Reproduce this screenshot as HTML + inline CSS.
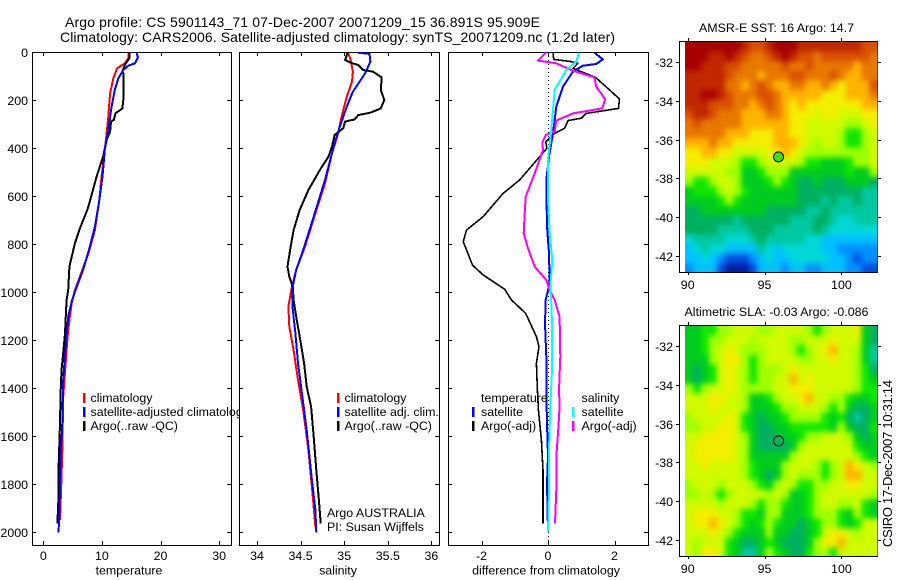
<!DOCTYPE html>
<html lang="en">
<head>
<meta charset="utf-8">
<title>Argo profile</title>
<style>
html,body{margin:0;padding:0;background:#fff;width:900px;height:580px;overflow:hidden}
svg{display:block;font-family:"Liberation Sans",sans-serif;fill:#000}
text{font-size:12.4px}
</style>
</head>
<body>
<svg id="chart" width="900" height="580" viewBox="0 0 900 580" xmlns="http://www.w3.org/2000/svg">
<defs>
<filter id="mapSmooth" filterUnits="userSpaceOnUse" x="660" y="0" width="240" height="580" color-interpolation-filters="sRGB"><feGaussianBlur stdDeviation="2.6 2.8"/></filter>
<clipPath id="sstClip"><rect x="685" y="42" width="192.5" height="230"/></clipPath>
<clipPath id="slaClip"><rect x="685" y="326" width="192.5" height="230"/></clipPath>
</defs>
<rect x="0" y="0" width="900" height="580" fill="#fff"/>
<text x="65" y="27" style="font-size:14px" textLength="475">Argo profile: CS 5901143_71 07-Dec-2007 20071209_15 36.891S 95.909E</text>
<text x="60" y="42" style="font-size:14px" textLength="555">Climatology: CARS2006. Satellite-adjusted climatology: synTS_20071209.nc (1.2d later)</text>
<text transform="translate(892,547) rotate(-90)" style="font-size:13px" textLength="167">CSIRO 17-Dec-2007 10:31:14</text>
</svg>
<script>
// ---------- profile axes ----------
const depthTicks = [0,200,400,600,800,1000,1200,1400,1600,1800,2000];
const tempTicks = [0,10,20,30];
const salTicks = [34,34.5,35,35.5,36];
const salTickLabels = ['34','34.5','35','35.5','36'];
const diffTicks = [-2,0,2];

// ---------- temperature panel ----------
const tClimValues = [14.5,14.5,13.9,12.6,11.95,11.4,11.1,10.8,10.35,9.95,9.55,8.8,7.7,6.25,5.4,4.85,4.45,4.15,3.85,3.4,3.25,3.05,2.85];
const tClimDepths = [3,26,47,68,110,172,269,339,436,519,617,742,839,936,992,1047,1117,1186,1283,1436,1658,1811,1950];
const tSatValues = [15.9,16.15,15.65,14.5,13.65,12.8,12.2,11.65,11.1,10.5,10.1,9.55,8.8,7.95,6.8,5.4,4.85,4.25,3.8,3.4,3.25,2.95,2.85,2.7,2.6];
const tSatDepths = [3,22,47,57,75,110,158,228,325,408,519,617,728,811,908,999,1040,1103,1228,1367,1547,1686,1825,1950,2003];
const tArgoValues = [14.7,14.7,13.9,13.5,13.65,13.65,13.5,12.3,12.05,11.55,11.4,10.8,10.2,9.1,7.85,7.5,6.25,5.4,4.45,4.25,3.98,3.8,3.7,3.4,3.1,2.95,2.85,2.6,2.6,2.4];
const tArgoDepths = [3,26,54,82,89,200,235,256,283,290,332,367,436,519,631,658,735,797,894,992,1033,1117,1172,1256,1325,1422,1547,1742,1853,1964];

// ---------- salinity panel ----------
const sClimValues = [35.04,35.07,35.1,35.09,35.03,34.97,34.93,34.86,34.78,34.67,34.55,34.45,34.4,34.36,34.37,34.42,34.47,34.53,34.59,34.64,34.67];
const sClimDepths = [3,26,82,124,186,269,339,422,547,672,811,908,978,1061,1144,1242,1367,1492,1658,1853,1978];
const sSatValues = [35.16,35.29,35.3,35.24,35.1,35.03,34.95,34.88,34.78,34.65,34.53,34.45,34.4,34.41,34.44,34.47,34.51,34.57,34.63,34.67,34.68];
const sSatDepths = [3,8,40,89,165,228,311,394,533,686,825,908,992,1075,1172,1297,1408,1575,1783,1908,2003];
const sArgoValues = [35.04,35.01,35.07,35.16,35.22,35.33,35.43,35.42,35.46,35.42,35.3,35.16,35.12,35.01,34.99,34.89,34.86,34.82,34.72,34.59,34.49,34.42,34.38,34.35,34.37,34.41,34.42,34.45,34.49,34.54,34.57,34.62,34.65,34.68,34.71,34.73];
const sArgoDepths = [3,33,44,54,75,82,106,158,200,235,253,263,281,290,318,346,394,436,492,575,658,742,825,894,936,978,1033,1103,1186,1297,1394,1478,1603,1742,1867,1964];

// ---------- difference panel ----------
const dTSatValues = [1.4,1.65,1.45,1.05,0.75,0.45,0.25,0.15,0.03,-0.05,-0.03,0.03,0.05,-0.07,-0.09,-0.05,-0.05,-0.03,0,-0.03,0];
const dTSatDepths = [3,31,50,57,82,144,228,339,436,533,728,839,964,1033,1131,1270,1408,1547,1686,1797,2000];
const dSSatValues = [0.93,0.85,0.55,0.2,0.15,0.1,0,0,0.05,0.13,0.07,0.1,0.12,0.12,0.07,0.03,0.03,0];
const dSSatDepths = [3,40,75,158,242,325,450,617,756,867,978,1047,1131,1325,1478,1658,1825,2000];
const dSArgoValues = [-0.07,-0.3,0.25,0.75,1.4,1.45,1.72,1.63,0.75,0.25,0.2,-0.07,-0.17,-0.15,-0.4,-0.67,-0.7,-0.73,-0.6,-0.4,-0.05,0.05,0.2,0.35,0.37,0.33,0.35,0.3,0.25,0.25,0.21];
const dSArgoDepths = [3,36,47,78,106,144,197,235,256,286,332,346,378,408,506,603,672,756,818,894,950,992,1033,1103,1270,1408,1478,1589,1686,1825,1964];
const dTArgoValues = [0.15,0.17,0.7,0.9,0.75,1.43,1.85,2.15,2.12,1.15,1,0.6,0.5,0.15,-0.07,-0.03,-0.25,-0.85,-1.35,-1.95,-2.45,-2.55,-2.27,-1.95,-1.3,-1.1,-0.67,-0.35,-0.27,-0.35,-0.32,-0.29,-0.2,-0.15,-0.15];
const dTArgoDepths = [3,31,40,47,68,106,158,196,235,256,276,286,318,343,374,401,436,533,589,686,742,790,888,929,989,1033,1089,1186,1228,1297,1408,1492,1617,1742,1964];

// ---------- maps ----------
const lonTicks = [90,95,100];
const latTicks = [-32,-34,-36,-38,-40,-42];
const argoLon = 95.909;
const argoLat = -36.891;
// colour-scale levels 0 (coldest / lowest) .. 16 (warmest / highest)
const levelColors = ['#0020a0','#0050e0','#0090ff','#00c0ff','#00d8d8','#00c8a0','#00b060','#00cc20','#10e800','#a0ff00','#d0fa00','#f4ee00','#ffb400','#e87800','#d85000','#c02800','#a80000'];
const sstLevels = [
[16,16,16,16,16,16,16,15,14,14,15,16,16,16,15,15,15,15,15,15,15,15,14,14],
[16,16,16,15,15,16,15,14,13,13,14,15,16,15,14,14,13,14,14,14,14,14,14,13],
[16,16,15,15,15,14,14,13,13,13,13,13,14,13,13,14,13,13,13,13,13,12,13,13],
[15,15,15,15,15,14,13,13,13,12,13,13,13,14,14,13,13,13,14,13,12,12,13,13],
[15,15,15,15,15,13,13,12,13,14,13,12,12,13,13,12,12,13,12,11,12,12,12,14],
[15,15,16,16,15,14,13,13,13,14,14,13,12,12,12,12,12,11,11,11,12,12,12,13],
[15,15,15,14,14,14,13,13,12,13,14,13,12,11,12,11,11,11,11,11,11,11,12,12],
[14,15,15,14,13,13,13,12,12,12,13,13,12,11,11,11,10,11,11,10,10,10,11,11],
[13,14,13,13,13,13,13,12,12,12,12,12,12,11,11,10,10,10,10,10,9,9,10,11],
[13,13,13,13,13,12,12,12,11,11,11,12,12,11,11,10,10,10,10,9,8,8,9,10],
[12,12,12,13,12,12,11,11,11,11,11,12,12,12,11,10,9,10,10,9,8,8,9,10],
[11,11,12,12,11,11,10,10,10,10,11,11,12,11,10,9,9,9,9,9,9,9,9,10],
[11,11,11,10,10,10,9,8,8,9,10,10,10,10,9,8,8,7,7,7,8,9,9,10],
[10,10,10,10,10,9,9,7,7,8,9,9,9,7,7,7,7,7,7,7,8,7,7,9],
[9,8,8,9,10,10,9,7,7,7,8,9,8,7,6,6,7,6,6,6,7,7,7,6],
[7,8,8,8,9,10,9,8,7,7,7,7,7,7,6,6,6,6,6,6,6,6,5,5],
[7,7,7,7,8,9,8,7,7,7,7,7,7,7,6,6,6,5,6,5,5,6,5,5],
[6,6,7,7,7,7,7,7,7,7,6,6,6,6,6,5,5,6,5,5,5,5,5,5],
[6,6,6,6,6,6,5,6,6,6,6,6,6,5,5,5,6,6,5,4,4,5,5,5],
[6,6,6,6,5,5,5,5,6,6,6,5,5,5,5,5,6,5,4,4,4,4,4,4],
[4,5,5,5,5,4,4,4,5,6,5,5,5,5,5,4,4,3,3,3,3,3,3,3],
[3,4,5,4,4,3,3,3,3,5,4,3,4,4,4,4,4,3,3,2,2,2,2,2],
[3,3,4,3,2,1,1,1,2,3,4,3,3,4,4,4,4,4,3,3,2,1,2,2],
[2,3,3,3,1,0,0,0,1,3,3,3,2,3,3,2,2,3,3,3,2,2,1,1]
];
const slaLevels = [
[7,7,8,8,9,9,10,10,10,9,9,10,10,10,10,9,8,9,10,10,10,11,7,6],
[7,7,8,9,9,10,10,10,9,10,10,10,10,9,9,10,10,10,11,10,10,10,7,6],
[7,7,8,9,10,11,10,9,9,9,10,10,10,9,8,9,10,11,12,10,10,9,7,5],
[7,7,7,9,10,11,11,9,8,9,10,10,10,10,9,9,10,10,11,10,10,9,7,5],
[7,6,7,8,10,11,10,9,8,9,9,9,10,11,10,10,10,10,10,10,10,9,8,6],
[7,6,7,8,10,11,10,9,8,9,9,10,10,12,10,11,10,10,10,10,10,9,8,7],
[9,8,9,10,10,11,10,9,9,9,9,10,10,11,11,11,10,10,10,10,10,9,8,8],
[10,10,10,11,11,10,10,9,7,7,8,9,10,10,11,12,10,10,9,9,8,7,7,8],
[10,10,10,11,10,10,10,9,7,7,7,8,9,9,10,10,10,9,8,9,7,6,6,7],
[9,10,10,10,10,11,10,8,7,6,7,7,8,9,9,9,9,8,7,8,6,5,6,7],
[9,9,10,10,11,11,10,8,7,6,6,7,7,8,8,8,8,8,7,9,7,6,6,8],
[10,10,11,11,11,11,10,9,7,6,6,6,7,7,8,9,9,10,10,10,9,7,6,7],
[10,11,11,11,11,11,10,9,7,6,6,6,6,7,9,10,10,10,10,10,10,8,7,7],
[10,11,11,11,11,11,10,9,7,7,7,7,7,9,10,10,10,10,10,10,10,9,8,7],
[10,10,11,10,10,10,10,9,8,7,7,7,9,10,10,10,9,8,9,10,12,11,10,9],
[10,10,10,10,10,10,10,9,8,7,6,7,9,10,9,9,9,8,9,10,12,12,10,10],
[9,10,10,10,9,10,10,10,9,8,7,9,10,9,8,8,9,9,10,10,11,11,10,10],
[9,9,10,9,8,9,10,10,10,10,9,10,9,7,7,8,9,10,10,10,10,10,10,9],
[10,10,10,10,9,10,10,10,9,8,9,9,8,7,7,8,9,10,10,9,9,10,8,7],
[10,11,11,11,10,10,9,8,8,7,9,9,7,7,7,8,9,9,9,8,7,9,8,7],
[10,11,11,12,11,10,9,8,7,8,9,8,7,7,6,7,8,9,9,8,7,8,10,10],
[10,10,10,11,10,9,8,7,7,7,9,7,7,6,6,7,8,10,11,11,10,9,10,10],
[10,9,10,10,10,8,7,6,6,7,8,7,6,6,6,7,9,11,11,12,10,10,10,10],
[10,9,11,11,10,8,7,5,5,7,9,8,7,6,6,8,9,9,8,10,10,10,10,10]
];

// ---------- drawing ----------
const svg = document.getElementById('chart');
const NS = 'http://www.w3.org/2000/svg';
function mk(tag, attrs, parent){
  const el = document.createElementNS(NS, tag);
  for (const k in attrs) el.setAttribute(k, attrs[k]);
  (parent || svg).appendChild(el);
  return el;
}
function depthY(d){ return 52 + d * 0.24; }
function fmtPts(xs, ys, fx, fy){ return xs.map((v,i)=>fx(v).toFixed(1)+','+fy(ys[i]).toFixed(1)).join(' '); }
const tempX = v => 43.3 + v * 5.86;
const salX = v => 257 + (v - 34) * 87.2;
const diffX = v => 548.0 + v * 33.25;

function frame(name, x0, x1, y0, y1){
  const r = mk('rect', {x:x0+0.5, y:y0+0.5, width:x1-x0, height:y1-y0, fill:'#fff', stroke:'#000', 'stroke-width':1, 'shape-rendering':'crispEdges'});
  
  
}
function tickLine(x1, y1, x2, y2){
  const l = mk('line', {x1:x1, y1:y1, x2:x2, y2:y2, stroke:'#000', 'stroke-width':1, 'shape-rendering':'crispEdges'});
  
  
}
function label(str, x, y, anchor, name){
  const t = mk('text', {x:x, y:y, 'text-anchor':anchor});
  t.textContent = str;
  
  
  return t;
}
function series(name, color, xs, ys, fx, width){
  const p = mk('polyline', {points:fmtPts(xs, ys, fx, depthY), fill:'none', stroke:color, 'stroke-width':width, 'stroke-linejoin':'round', 'shape-rendering':'crispEdges'});
  
  
}
function legendRow(color, text, xBar, xText, y, name){
  if (color){
    const r = mk('rect', {x:xBar, y:y-9, width:2.5, height:10, fill:color, 'shape-rendering':'crispEdges'});
    
    
  }
  label(text, xText, y, 'start', name);
}
function profileAxes(px0, px1, xTicks, xLabels, fx, xTitle, titleX, withDepth, prefix){
  const top = 52, bot = 545;
  frame(prefix + '-panel', px0, px1, top, bot);
  xTicks.forEach((v,i)=>{
    const x = Math.round(fx(v)) + 0.5;
    tickLine(x, top, x, top + 4);
    tickLine(x, bot, x, bot - 4);
    label(xLabels[i], fx(v), 560, 'middle', prefix + '-x-tick-label');
  });
  depthTicks.forEach(d=>{
    const y = Math.round(depthY(d)) + 0.5;
    tickLine(px0, y, px0 + 4, y);
    tickLine(px1, y, px1 - 4, y);
    if (withDepth) label(String(d), 28, y + 4.5, 'end', 'depth-tick-label');
  });
  label(xTitle, titleX, 574.5, 'middle', prefix + '-x-axis-title');
}

// temperature
profileAxes(32, 231, tempTicks, tempTicks.map(String), tempX, 'temperature', 129, true, 'temperature');
series('temperature-climatology-line', '#f00', tClimValues, tClimDepths, tempX, 2);
series('temperature-argo-line', '#000', tArgoValues, tArgoDepths, tempX, 2);
series('temperature-satellite-line', '#00f', tSatValues, tSatDepths, tempX, 2);
legendRow('#f00', 'climatology', 83, 90.5, 402, 'temperature-legend-climatology');
legendRow('#00f', 'satellite-adjusted climatology', 83, 90.5, 416, 'temperature-legend-satellite');
legendRow('#000', 'Argo(..raw -QC)', 83, 90.5, 430, 'temperature-legend-argo');

// salinity
profileAxes(239, 439, salTicks, salTickLabels, salX, 'salinity', 338, false, 'salinity');
series('salinity-climatology-line', '#f00', sClimValues, sClimDepths, salX, 2);
series('salinity-argo-line', '#000', sArgoValues, sArgoDepths, salX, 2);
series('salinity-satellite-line', '#00f', sSatValues, sSatDepths, salX, 2);
legendRow('#f00', 'climatology', 337, 344.5, 402, 'salinity-legend-climatology');
legendRow('#00f', 'satellite adj. clim.', 337, 344.5, 416, 'salinity-legend-satellite');
legendRow('#000', 'Argo(..raw -QC)', 337, 344.5, 430, 'salinity-legend-argo');
label('Argo AUSTRALIA', 327, 517, 'start', 'argo-country-note');
label('PI: Susan Wijffels', 327, 531, 'start', 'principal-investigator-note');

// difference
profileAxes(448, 648, diffTicks, diffTicks.map(String), diffX, 'difference from climatology', 546, false, 'difference');
const zeroLine = mk('line', {x1:diffX(0)+0.5, y1:52, x2:diffX(0)+0.5, y2:545, stroke:'#000', 'stroke-width':1, 'stroke-dasharray':'1 3'});


series('difference-temperature-argo-line', '#000', dTArgoValues, dTArgoDepths, diffX, 1.6);
series('difference-temperature-satellite-line', '#00f', dTSatValues, dTSatDepths, diffX, 2);
series('difference-salinity-argo-line', '#f0f', dSArgoValues, dSArgoDepths, diffX, 2);
series('difference-salinity-satellite-line', '#0ff', dSSatValues, dSSatDepths, diffX, 2);
legendRow(null, 'temperature', 472, 481, 402, 'difference-legend-temperature');
legendRow('#00f', 'satellite', 472, 481, 416, 'difference-legend-temperature-satellite');
legendRow('#000', 'Argo(-adj)', 472, 481, 430, 'difference-legend-temperature-argo');
legendRow(null, 'salinity', 572, 581.5, 402, 'difference-legend-salinity');
legendRow('#0ff', 'satellite', 572, 581.5, 416, 'difference-legend-salinity-satellite');
legendRow('#f0f', 'Argo(-adj)', 572, 581.5, 430, 'difference-legend-salinity-argo');

// maps
function mapPanel(prefix, levels, clipId, top, bottom, lat32Y, title, titleX, labelY, markerFill){
  const lonX = lon => 687.7 + (lon - 90) * 15.37;
  const latY = lat => lat32Y + (-32 - lat) * 19.33;
  const imgL = 685, imgR = 877.5;
  frame(prefix + '-map-frame', 679, 877, top, bottom);
  const clipGroup = mk('g', {'clip-path':'url(#' + clipId + ')'});
  
  
  const blurGroup = mk('g', {filter:'url(#mapSmooth)'}, clipGroup);
  const rows = levels.length, cols = levels[0].length;
  const cw = (imgR - imgL) / cols, ch = (bottom - top) / rows;
  const bleed = 14; // outer cells run past the clip so smoothing does not fade at the edges
  levels.forEach((row, r)=>{
    row.forEach((lev, c)=>{
      const x0 = imgL + c * cw - (c === 0 ? bleed : 0);
      const x1 = imgL + (c + 1) * cw + (c === cols - 1 ? bleed : 0);
      const y0 = top + 1 + r * ch - (r === 0 ? bleed : 0);
      const y1 = top + 1 + (r + 1) * ch + (r === rows - 1 ? bleed : 0);
      const cell = mk('rect', {x:x0.toFixed(1), y:y0.toFixed(1), width:(x1-x0+0.4).toFixed(1), height:(y1-y0+0.4).toFixed(1), fill:levelColors[lev]}, blurGroup);
      
      
    });
  });
  lonTicks.forEach(lon=>{
    const x = Math.round(lonX(lon)) + 0.5;
    tickLine(x, top, x, top - 3);
    tickLine(x, bottom, x, bottom + 3);
    label(String(lon), lonX(lon), labelY, 'middle', prefix + '-longitude-tick-label');
  });
  latTicks.forEach(lat=>{
    const y = Math.round(latY(lat)) + 0.5;
    tickLine(679, y, 676, y);
    tickLine(878, y, 881, y);
    label('-' + Math.abs(lat), 673, y + 4.5, 'end', prefix + '-latitude-tick-label');
  });
  label(title, titleX, top - 9, 'middle', prefix + '-map-title');
  const m = mk('circle', {cx:lonX(argoLon), cy:latY(argoLat), r:5, fill:markerFill, stroke:'#000', 'stroke-width':1});
  
  
}
mapPanel('sst', sstLevels, 'sstClip', 41, 272, 62.3, 'AMSR-E SST: 16 Argo: 14.7', 776.5, 289, '#40e000');
mapPanel('sla', slaLevels, 'slaClip', 325, 556, 346.3, 'Altimetric SLA: -0.03 Argo: -0.086', 776.5, 573, 'none');
</script>
</body>
</html>
